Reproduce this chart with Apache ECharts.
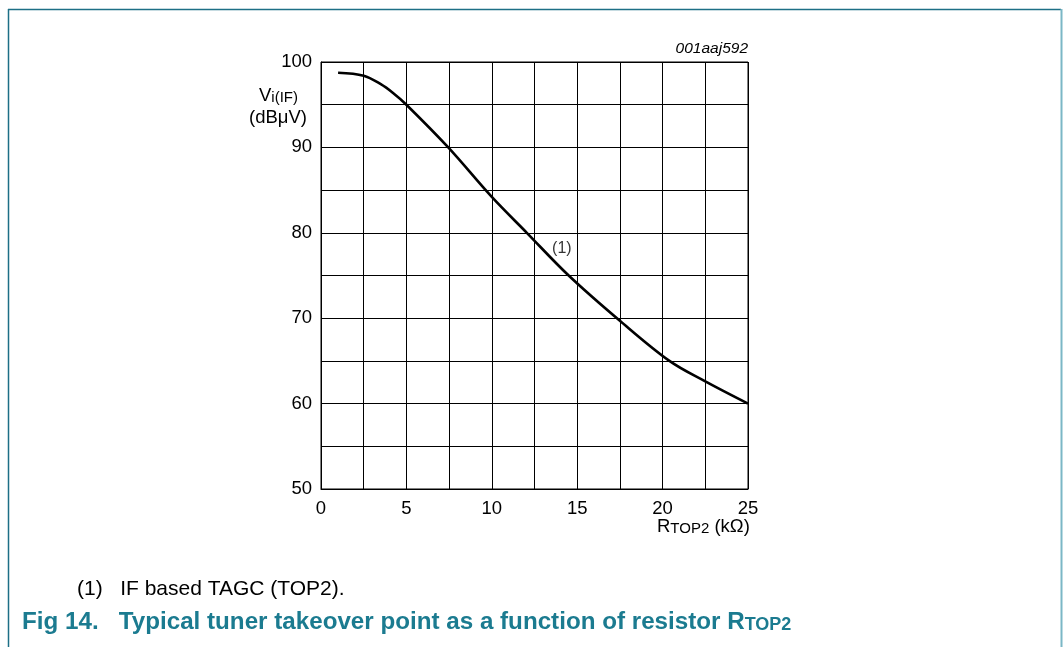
<!DOCTYPE html>
<html>
<head>
<meta charset="utf-8">
<script src="https://cdn.jsdelivr.net/npm/echarts@6/dist/echarts.min.js"></script>
<style>
html,body{margin:0;padding:0;background:#fff;}
#chart{width:1063px;height:647px;}
</style>
</head>
<body>
<div id="chart"></div>
<script>
// Data
var rTop2 = [1.0, 2.5, 3.5, 4.2, 5.0, 7.45, 10.0, 12.05, 14.5, 17.5, 20.4, 22.5, 25.0];
var viIF =  [98.75, 98.4, 97.4, 96.4, 95.0, 90.0, 84.2, 80.0, 75.0, 69.7, 65.0, 62.6, 60.0];
var xTicks = [0, 5, 10, 15, 20, 25];
var yTicks = [50, 60, 70, 80, 90, 100];
var noteLabel = {x: 14.1, y: 78.2, text: '(1)'};

var curve = rTop2.map(function (x, i) { return [x, viIF[i]]; });
var font = '"Liberation Sans", Arial, sans-serif';
var teal = '#1b7b90';

var chart = echarts.init(document.getElementById('chart'), null, {renderer: 'canvas'});
chart.setOption({
  backgroundColor: '#fff',
  animation: false,
  grid: {left: 321, top: 62, width: 427, height: 427, show: true, borderColor: '#000', borderWidth: 1},
  xAxis: {
    type: 'value', min: 0, max: 25, interval: 2.5,
    axisLine: {show: true, lineStyle: {color: '#000', width: 1}},
    axisTick: {show: false},
    splitLine: {show: true, lineStyle: {color: '#000', width: 1}},
    axisLabel: {
      color: '#000', fontFamily: font, fontSize: 18.5, margin: 10,
      formatter: function (v) { return xTicks.indexOf(v) >= 0 ? String(v) : ''; }
    }
  },
  yAxis: {
    type: 'value', min: 50, max: 100, interval: 5,
    axisLine: {show: true, lineStyle: {color: '#000', width: 1}},
    axisTick: {show: false},
    splitLine: {show: true, lineStyle: {color: '#000', width: 1}},
    axisLabel: {
      color: '#000', fontFamily: font, fontSize: 18.5, margin: 9,
      formatter: function (v) { return yTicks.indexOf(v) >= 0 ? String(v) : ''; }
    }
  },
  series: [
    {
      type: 'line', data: curve, smooth: 0.35, showSymbol: false,
      lineStyle: {color: '#000', width: 2.6}, z: 5
    },
    {
      type: 'scatter', data: [[noteLabel.x, noteLabel.y]], symbolSize: 0,
      label: {show: true, position: 'inside', formatter: noteLabel.text, color: '#000', fontFamily: font, fontSize: 16}
    }
  ],
  graphic: [
    {type: 'line', shape: {x1: 8, y1: 9.5, x2: 1061, y2: 9.5}, style: {stroke: '#1d6f86', lineWidth: 1.5}},
    {type: 'line', shape: {x1: 8.5, y1: 9, x2: 8.5, y2: 647}, style: {stroke: '#1d6f86', lineWidth: 1.5}},
    {type: 'line', shape: {x1: 1061.5, y1: 9, x2: 1061.5, y2: 647}, style: {stroke: '#7bb7c6', lineWidth: 2}},
    {type: 'text', right: 315, top: 41, style: {text: '001aaj592', font: 'italic 15.5px ' + font, fill: '#000'}},
    {type: 'text', left: 259, top: 86, style: {
      text: '{a|V}{b|i(IF)}', fill: '#000',
      rich: {a: {fontSize: 18.5, fontFamily: font, verticalAlign: 'bottom'}, b: {fontSize: 15, fontFamily: font, padding: [7, 0, 0, 0], verticalAlign: 'bottom'}}
    }},
    {type: 'text', left: 249, top: 108, style: {text: '(dB\u03bcV)', font: '18.5px ' + font, fill: '#000'}},
    {type: 'text', left: 657, top: 517, style: {
      text: '{a|R}{b|TOP2}{a| (k\u03a9)}', fill: '#000',
      rich: {a: {fontSize: 18.5, fontFamily: font, verticalAlign: 'bottom'}, b: {fontSize: 15, fontFamily: font, padding: [6, 0, 0, 0], verticalAlign: 'bottom'}}
    }},
    {type: 'text', left: 77, top: 579, style: {text: '(1)   IF based TAGC (TOP2).', font: '21px ' + font, fill: '#000'}},
    {type: 'text', left: 22, top: 610, style: {
      text: '{a|Fig 14.   Typical tuner takeover point as a function of resistor R}{b|TOP2}', fill: teal,
      rich: {a: {fontSize: 24.2, fontWeight: 'bold', fontFamily: font, color: teal, verticalAlign: 'bottom'}, b: {fontSize: 18, fontWeight: 'bold', fontFamily: font, color: teal, padding: [7, 0, 0, 0], verticalAlign: 'bottom'}}
    }}
  ]
});
</script>
</body>
</html>
